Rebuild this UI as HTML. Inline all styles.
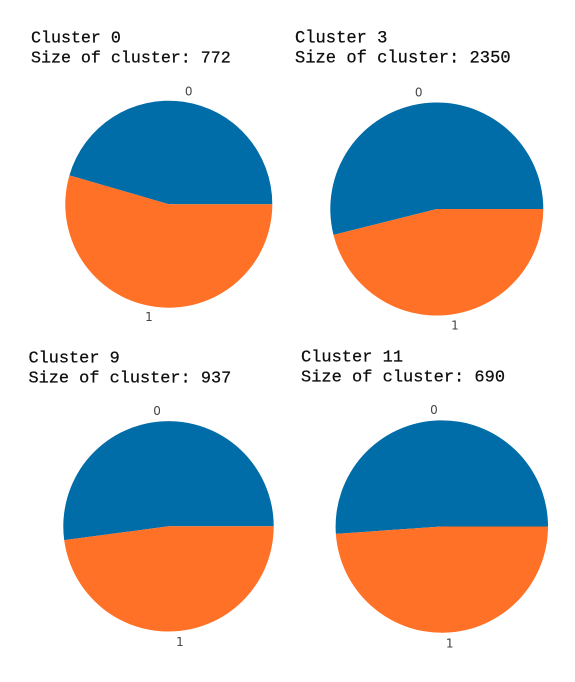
<!DOCTYPE html>
<html lang="en">
<head>
<meta charset="utf-8">
<title>Cluster pie charts</title>
<style>
  html, body { margin: 0; padding: 0; background: #fff; }
  body { width: 575px; height: 682px; overflow: hidden; }
  svg { display: block; }
  .title { font-family: "Liberation Mono", monospace; fill: #111; stroke: #111; stroke-width: 0.25px; }
  .slice-label { font-family: "DejaVu Sans", sans-serif; font-size: 12px; fill: #444; dominant-baseline: central; }
</style>
</head>
<body>
<svg id="chart" width="575" height="682" viewBox="0 0 575 682" xmlns="http://www.w3.org/2000/svg">
  <defs>
    <filter id="soft" x="-5%" y="-5%" width="110%" height="110%"><feGaussianBlur stdDeviation="0.3"/></filter>
  </defs>
  <g class="title" font-size="16.65" filter="url(#soft)">
    <text x="31" y="42.5">Cluster 0</text>
    <text x="31" y="62.7">Size of cluster: 772</text>
  </g>
  <g class="title" font-size="17.12" filter="url(#soft)">
    <text x="295" y="42.5">Cluster 3</text>
    <text x="295" y="62.7">Size of cluster: 2350</text>
  </g>
  <g class="title" font-size="16.9" filter="url(#soft)">
    <text x="28.5" y="362.5">Cluster 9</text>
    <text x="28.5" y="382.7">Size of cluster: 937</text>
  </g>
  <g class="title" font-size="17" filter="url(#soft)">
    <text x="301" y="361.3">Cluster 11</text>
    <text x="301" y="381.5">Size of cluster: 690</text>
  </g>
</svg>
<script>
// Chart data
const clusterIds = [0, 3, 9, 11];
const classLabels = ["0", "1"];
const class0Share = [45.5, 53.9, 52.1, 51.1];
const class1Share = [54.5, 46.1, 47.9, 48.9];

// Presentation
const sliceColors = ["#046ca8", "#ff7125"];
const pieFrames = [
  { cx: 168.8, cy: 204.2, r: 103.5 },
  { cx: 436.8, cy: 209, r: 106.5 },
  { cx: 168.5, cy: 526.3, r: 105.2 },
  { cx: 441.8, cy: 526.5, r: 106.2 }
];

const svgNS = "http://www.w3.org/2000/svg";
const chart = document.getElementById("chart");

// Axis function: cumulative value -> angle in radians
function angleOf(value, total) {
  return (value / total) * 2 * Math.PI;
}

function pointAt(frame, angle, scale) {
  return {
    x: frame.cx + frame.r * scale * Math.cos(angle),
    y: frame.cy - frame.r * scale * Math.sin(angle)
  };
}

clusterIds.forEach(function (id, i) {
  const frame = pieFrames[i];
  const values = [class0Share[i], class1Share[i]];
  const total = values[0] + values[1];

  const group = document.createElementNS(svgNS, "g");
  
  
  chart.appendChild(group);

  let cumulative = 0;
  values.forEach(function (value, k) {
    const a0 = angleOf(cumulative, total);
    const a1 = angleOf(cumulative + value, total);
    const mid = (a0 + a1) / 2;
    cumulative += value;

    const p0 = pointAt(frame, a0, 1);
    const p1 = pointAt(frame, a1, 1);
    const large = a1 - a0 > Math.PI ? 1 : 0;

    const slice = document.createElementNS(svgNS, "path");
    
    
    slice.setAttribute("d",
      "M" + frame.cx + " " + frame.cy +
      "L" + p0.x.toFixed(2) + " " + p0.y.toFixed(2) +
      "A" + frame.r + " " + frame.r + " 0 " + large + " 0 " + p1.x.toFixed(2) + " " + p1.y.toFixed(2) + "Z");
    slice.setAttribute("fill", sliceColors[k]);
    slice.setAttribute("filter", "url(#soft)");
    group.appendChild(slice);

    const lp = pointAt(frame, mid, 1.1);
    const label = document.createElementNS(svgNS, "text");
    
    
    label.setAttribute("class", "slice-label");
    label.setAttribute("x", lp.x.toFixed(2));
    label.setAttribute("y", lp.y.toFixed(2));
    label.setAttribute("text-anchor", lp.x > frame.cx ? "start" : "end");
    label.textContent = classLabels[k];
    group.appendChild(label);
  });
});
</script>
</body>
</html>
